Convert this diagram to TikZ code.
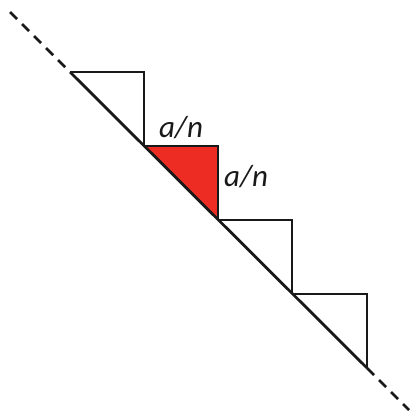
\documentclass[tikz,border=0pt]{standalone}
\usepackage{fontspec}
\setmainfont{Carlito}
\usepackage{tikz}
\usetikzlibrary{calc}
\definecolor{stepred}{RGB}{237,45,36}
\tikzset{
  edge/.style={line width=2.8pt, black!90, line cap=butt, line join=miter},
  guide/.style={edge, dash pattern=on 10pt off 7pt},
  lbl/.style={font=\fontsize{31}{33}\selectfont\itshape, text=black!90, inner sep=0pt}
}
\begin{document}
\begin{tikzpicture}[x=1pt, y=-1pt]
    \useasboundingbox (0,0) rectangle (411,413);

    % Puntos sobre la diagonal
    \coordinate (P0) at (70,72);
    \coordinate (P1) at (144,146);
    \coordinate (P2) at (218,220);
    \coordinate (P3) at (292,294);
    \coordinate (P4) at (367,368);
    \coordinate (Dini) at (10,12);
    \coordinate (Dfin) at (409,410);

    % Triangulo rojo
    \fill[stepred] (P1) -- (P1 -| P2) -- (P2) -- cycle;

    % Escalones
    \foreach \a/\b in {P0/P1, P1/P2, P2/P3, P3/P4} {
        \draw[edge] (\a) -- (\a -| \b) -- (\b);
    }

    % Diagonal (solida y discontinua)
    \draw[edge] (P0) -- (P4);
    \draw[guide] (Dini) -- (P0);
    \draw[guide] (P4) -- (Dfin);

    % Etiquetas
    \node[lbl] (top) at (181,128) {a/n};
    \node[lbl, anchor=west] (side) at ($(P2 |- 0,177)+(6,0)$) {a/n};
\end{tikzpicture}
\end{document}
